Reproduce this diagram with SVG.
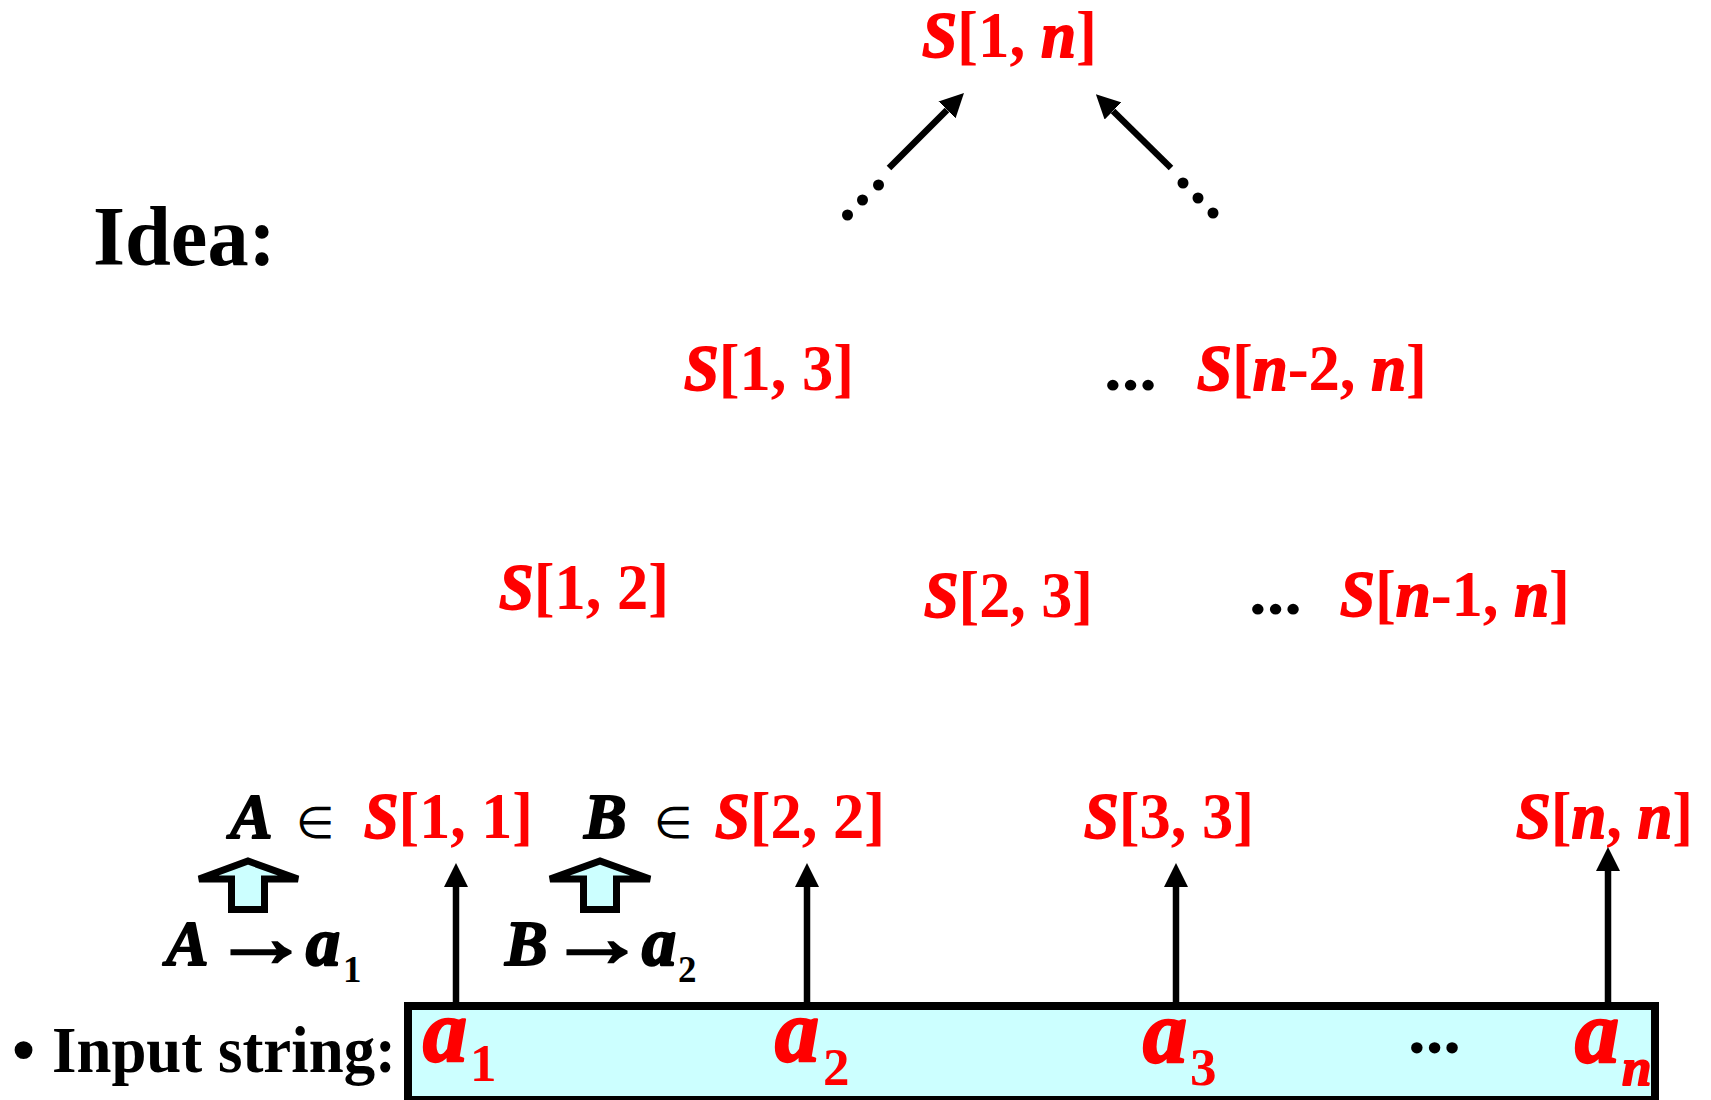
<svg xmlns="http://www.w3.org/2000/svg" width="1711" height="1100" viewBox="0 0 1711 1100">
<defs>
<style>
text{font-family:"Liberation Serif","Times New Roman",serif;font-weight:bold}
.r{fill:#ff0000;font-size:66px}
.k{fill:#000000}
.i{font-style:italic;stroke-width:1.8px;stroke-linejoin:round}
.r .i,.r.i{stroke:#ff0000}
.k.i{stroke:#000000}
.big{stroke-width:2.4px}
.n{font-weight:normal}
.ba{font-size:88px}
.bs{font-size:53px}
.conn line{stroke:#000;stroke-width:6.5;fill:none}
.blk{fill:#ccffff;stroke:#000;stroke-width:7;stroke-linejoin:miter}
</style>
<marker id="ah" viewBox="0 0 24 24" refX="0" refY="12" markerWidth="24" markerHeight="24" markerUnits="userSpaceOnUse" orient="auto">
<path d="M0,0 L24,12 L0,24 z" fill="#000"/>
</marker>
</defs>
<rect width="1711" height="1100" fill="#ffffff"/>

<g id="title">
<text class="k" x="93" y="265" font-size="84" textLength="183" lengthAdjust="spacingAndGlyphs">Idea:</text>
</g>

<g id="s1n"><text class="r" x="922" y="57" textLength="175" lengthAdjust="spacingAndGlyphs"><tspan class="i">S</tspan>[1, <tspan class="i">n</tspan>]</text></g>

<g id="dots-left">
<circle cx="847.5" cy="215" r="5.5"/><circle cx="862.5" cy="200" r="5.5"/><circle cx="878.5" cy="185" r="5.5"/>
</g>
<g id="dots-right">
<circle cx="1183" cy="183" r="5.5"/><circle cx="1198" cy="198" r="5.5"/><circle cx="1213" cy="213" r="5.5"/>
</g>

<g id="s13"><text class="r" x="684" y="390" textLength="170" lengthAdjust="spacingAndGlyphs"><tspan class="i">S</tspan>[1, 3]</text></g>
<g id="ell1"><text class="k" x="1104" y="390" font-size="66" textLength="53" lengthAdjust="spacingAndGlyphs">...</text></g>
<g id="sn2n"><text class="r" x="1197" y="390" textLength="230" lengthAdjust="spacingAndGlyphs"><tspan class="i">S</tspan>[<tspan class="i">n</tspan>-2, <tspan class="i">n</tspan>]</text></g>

<g id="s12"><text class="r" x="499" y="609" textLength="170" lengthAdjust="spacingAndGlyphs"><tspan class="i">S</tspan>[1, 2]</text></g>
<g id="s23"><text class="r" x="924" y="617" textLength="169" lengthAdjust="spacingAndGlyphs"><tspan class="i">S</tspan>[2, 3]</text></g>
<g id="ell2"><text class="k" x="1249" y="614" font-size="66" textLength="53" lengthAdjust="spacingAndGlyphs">...</text></g>
<g id="sn1n"><text class="r" x="1340" y="616" textLength="230" lengthAdjust="spacingAndGlyphs"><tspan class="i">S</tspan>[<tspan class="i">n</tspan>-1, <tspan class="i">n</tspan>]</text></g>

<g id="s11">
<text class="k i" x="230" y="838" font-size="64">A</text>
<text class="k n" x="296" y="838" font-size="44">∈</text>
<text class="r" x="364" y="838" textLength="169" lengthAdjust="spacingAndGlyphs"><tspan class="i">S</tspan>[1, 1]</text>
</g>
<g id="s22">
<text class="k i" x="584" y="838" font-size="64">B</text>
<text class="k n" x="654" y="838" font-size="44">∈</text>
<text class="r" x="715" y="838" textLength="170" lengthAdjust="spacingAndGlyphs"><tspan class="i">S</tspan>[2, 2]</text>
</g>
<g id="s33"><text class="r" x="1084" y="838" textLength="170" lengthAdjust="spacingAndGlyphs"><tspan class="i">S</tspan>[3, 3]</text></g>
<g id="snn"><text class="r" x="1516" y="838" textLength="177" lengthAdjust="spacingAndGlyphs"><tspan class="i">S</tspan>[<tspan class="i">n</tspan>, <tspan class="i">n</tspan>]</text></g>

<g id="blockarrow1"><polygon class="blk" points="199,879 248,861 298,879 264.5,879 264.5,909.5 231.5,909.5 231.5,879"/></g>
<g id="blockarrow2"><polygon class="blk" points="550,879 600,861 650,879 616.5,879 616.5,909.5 583.5,909.5 583.5,879"/></g>

<g id="ruleA">
<text class="k i" x="166" y="965" font-size="64">A</text>
<text class="k n" x="212" y="966" font-size="83" stroke="#000" stroke-width="2.6" textLength="98" lengthAdjust="spacingAndGlyphs">→</text>
<text class="k i big" x="306" y="965" font-size="68">a</text>
<text class="k" x="343" y="982" font-size="37">1</text>
</g>
<g id="ruleB">
<text class="k i" x="505" y="965" font-size="64">B</text>
<text class="k n" x="548" y="966" font-size="83" stroke="#000" stroke-width="2.6" textLength="98" lengthAdjust="spacingAndGlyphs">→</text>
<text class="k i big" x="642" y="965" font-size="68">a</text>
<text class="k" x="678" y="982" font-size="37">2</text>
</g>

<g id="input-label">
<text class="k" x="12" y="1072" font-size="66">•</text>
<text class="k" x="52" y="1072" font-size="66" textLength="344" lengthAdjust="spacingAndGlyphs">Input string:</text>
</g>

<g id="input-box">
<rect x="408" y="1006" width="1247" height="94" fill="#ccffff" stroke="#000" stroke-width="8"/>
<text class="r i big ba" x="423" y="1061">a</text>
<text class="r bs" x="470" y="1081">1</text>
<text class="r i big ba" x="775" y="1061">a</text>
<text class="r bs" x="823" y="1085">2</text>
<text class="r i big ba" x="1143" y="1062">a</text>
<text class="r bs" x="1190" y="1085">3</text>
<text class="k" x="1408" y="1053" font-size="70" textLength="53" lengthAdjust="spacingAndGlyphs">...</text>
<text class="r i big ba" x="1575" y="1062">a</text>
<text class="r i bs" x="1622" y="1085">n</text>
</g>

<g id="connectors" class="conn">
<line x1="889" y1="168" x2="947" y2="110" marker-end="url(#ah)"/>
<line x1="1171" y1="168" x2="1113" y2="111" marker-end="url(#ah)"/>
<line x1="456" y1="1002" x2="456" y2="887" marker-end="url(#ah)"/>
<line x1="807" y1="1002" x2="807" y2="887" marker-end="url(#ah)"/>
<line x1="1176" y1="1002" x2="1176" y2="887" marker-end="url(#ah)"/>
<line x1="1608" y1="1002" x2="1608" y2="871" marker-end="url(#ah)"/>
</g>
</svg>
